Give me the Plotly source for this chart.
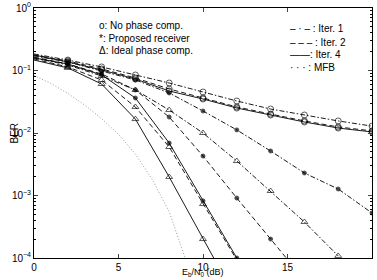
import plotly.graph_objects as go

# ---------------- data ----------------
snr = [0, 2, 4, 6, 8, 10, 12, 14, 16, 18, 20]

# o : no phase compensation
no_comp_it1 = [0.184, 0.147, 0.114, 0.0847, 0.0631, 0.0453, 0.0325, 0.0242, 0.0194, 0.0156, 0.0129]
no_comp_it2 = [0.177, 0.142, 0.106, 0.076, 0.0506, 0.0363, 0.0261, 0.0201, 0.0156, 0.0125, 0.0108]
no_comp_it4 = [0.177, 0.137, 0.102, 0.0731, 0.047, 0.035, 0.0251, 0.0194, 0.015, 0.012, 0.0104]

# * : proposed receiver
prop_it1 = [0.171, 0.137, 0.098, 0.0705, 0.0437, 0.0225, 0.0112, 0.00515, 0.00229, 0.00127, 0.000525]
prop_it2 = [0.164, 0.127, 0.088, 0.0488, 0.018, 0.00428, 0.00091, 0.000201, 0.0000445]
prop_it4 = [0.159, 0.127, 0.085, 0.0363, 0.0069, 0.00082, 0.0001]

# triangle : ideal phase compensation
ideal_it1 = [0.159, 0.1225, 0.0817, 0.0488, 0.0233, 0.01, 0.00356, 0.00118, 0.000377, 0.000108]
ideal_it2 = [0.153, 0.114, 0.0705, 0.0261, 0.00597, 0.00073, 0.0000929]
ideal_it4 = [0.147, 0.11, 0.0608, 0.0167, 0.00198, 0.000201, 0.0000213]

# MFB
mfb_snr = [0, 1, 2, 3, 4, 5, 6, 7, 8, 9]
mfb_ber = [0.083, 0.062, 0.043, 0.028, 0.017, 0.0095, 0.0046, 0.0018, 0.00055, 0.00009]

x_ticks = [0, 5, 10, 15, 20]
y_ticks = [1e-4, 1e-3, 1e-2, 1e-1, 1]
y_tick_text = ["10<sup>−4</sup>", "10<sup>−3</sup>", "10<sup>−2</sup>", "10<sup>−1</sup>", "10<sup>0</sup>"]

# ---------------- styles ----------------
DASH = {"it1": "5px,2px,1.5px,2px", "it2": "5px,3px", "it4": "solid"}
SYMB = {"o": ("circle-open", 6), "*": ("circle", 4), "t": ("triangle-up-open", 6)}

fig = go.Figure()

def add(y, it, mk):
    xs = snr[:len(y)]
    sym, size = SYMB[mk]
    sizes = [0] + [size] * (len(y) - 1)
    fig.add_trace(go.Scatter(
        x=xs, y=y, mode="lines+markers",
        line=dict(color="black", width=0.9, dash=DASH[it]),
        marker=dict(symbol=sym, size=sizes, color="black",
                    line=dict(color="black", width=0.9)),
        showlegend=False))

add(no_comp_it1, "it1", "o")
add(no_comp_it2, "it2", "o")
add(no_comp_it4, "it4", "o")
add(prop_it1, "it1", "*")
add(prop_it2, "it2", "*")
add(prop_it4, "it4", "*")
add(ideal_it1, "it1", "t")
add(ideal_it2, "it2", "t")
add(ideal_it4, "it4", "t")

fig.add_trace(go.Scatter(x=mfb_snr, y=mfb_ber, mode="lines",
                         line=dict(color="#999999", width=1, dash="1px,2px"),
                         showlegend=False))

FONT = dict(family="Liberation Sans, Arial, sans-serif", size=10, color="black")

minor_vals = [m * 10 ** e for e in range(-4, 0) for m in range(2, 10)]

fig.update_xaxes(range=[0, 20], tickvals=x_ticks, ticks="inside", ticklen=4,
                 showline=True, linecolor="black", linewidth=1, mirror="allticks",
                 showgrid=False, zeroline=False, tickfont=FONT, automargin=False)
fig.update_yaxes(type="log", range=[-4, 0], tickvals=y_ticks, ticktext=y_tick_text,
                 ticks="inside", ticklen=4,
                 minor=dict(tickvals=minor_vals, ticks="inside", ticklen=2, tickcolor="black"),
                 showline=True, linecolor="black", linewidth=1, mirror="allticks",
                 showgrid=False, zeroline=False, tickfont=FONT, automargin=False)

# in-plot legend texts
left_lines = ["o: No phase comp.", "*: Proposed receiver", "Δ: Ideal phase comp."]
left_y = [0.928, 0.88, 0.832]
for t, yy in zip(left_lines, left_y):
    fig.add_annotation(text=t, xref="paper", yref="paper", x=0.186, y=yy,
                       xanchor="left", yanchor="middle", showarrow=False, font=FONT)

right_lines = ["– · – : Iter. 1", "– – – : Iter. 2", "——: Iter. 4", "· · · : MFB"]
right_y = [0.916, 0.864, 0.816, 0.764]
for t, yy in zip(right_lines, right_y):
    fig.add_annotation(text=t, xref="paper", yref="paper", x=0.75, y=yy,
                       xanchor="left", yanchor="middle", showarrow=False, font=FONT)

# axis titles
fig.add_annotation(text="BER", xref="paper", yref="paper", x=0, y=0.5,
                   xshift=-28, textangle=-90, showarrow=False, font=FONT)
fig.add_annotation(text="E<sub>b</sub>/N<sub>0</sub> (dB)", xref="paper", yref="paper",
                   x=0.5, y=-0.088, xanchor="center", yanchor="bottom",
                   showarrow=False, font=dict(family=FONT["family"], size=9, color="black"))

fig.update_layout(width=377, height=280,
                  margin=dict(l=34, r=5, t=8, b=22),
                  plot_bgcolor="white", paper_bgcolor="white",
                  font=FONT)

fig.write_html("out.html")
